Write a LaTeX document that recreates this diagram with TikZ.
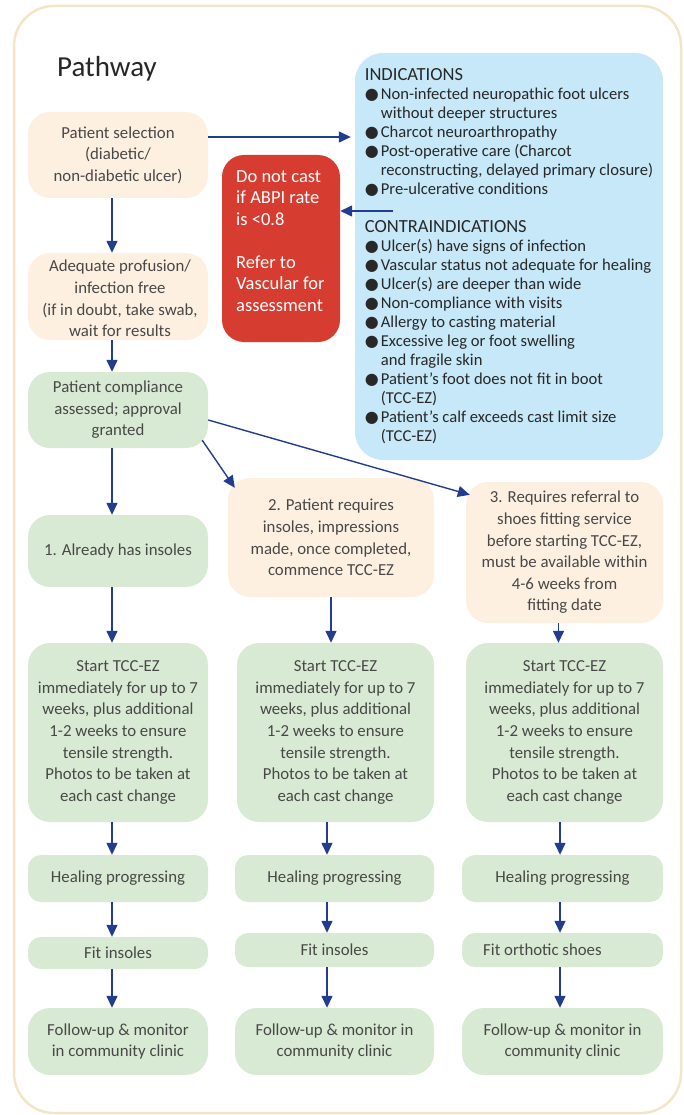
\documentclass[tikz,border=0pt]{standalone}
\usepackage{fontspec}
\setmainfont{Carlito}
\newfontfamily\symfont{DejaVu Sans}
\usepackage{xcolor}
\usetikzlibrary{shapes.geometric, arrows.meta, positioning, calc}
\definecolor{creamfill}{RGB}{253,240,225}
\definecolor{greenfill}{RGB}{216,234,211}
\definecolor{bluefill}{RGB}{198,232,248}
\definecolor{alertred}{RGB}{214,60,48}
\definecolor{navyline}{RGB}{34,61,143}
\definecolor{framecream}{RGB}{243,229,198}
\definecolor{textgray}{RGB}{72,72,72}
\definecolor{listgray}{RGB}{40,40,40}
\tikzstyle{stage} = [rectangle, rounded corners=22pt, inner sep=0pt, align=center, text=textgray, font=\fontsize{16.8}{21.6}\selectfont]
\tikzstyle{creambox} = [stage, fill=creamfill]
\tikzstyle{okbox} = [stage, fill=greenfill]
\tikzstyle{slim} = [rounded corners=13pt]
\tikzstyle{arrow} = [line width=1.4pt, draw=navyline, -{Triangle[length=12pt,width=11pt]}, navyline]
\newcommand{\blt}{\makebox[16pt][l]{{\symfont\fontsize{16}{16}\selectfont ●}}}
\newcommand{\cnt}{\hspace*{16pt}}
\newcommand{\listhead}[1]{{\fontsize{18.5}{19}\selectfont #1}}

\begin{document}
\begin{tikzpicture}[x=1pt, y=-1pt]
\useasboundingbox (0,0) rectangle (684,1115);
\draw [framecream, line width=2.5pt, rounded corners=40pt] (14,6) rectangle (681,1113);

\node (title) [anchor=base west, inner sep=0pt, text=black!85, font=\fontsize{29}{29}\selectfont] at (57,77) {Pathway};

% top column
\node (sel) [creambox, minimum width=180pt, minimum height=86pt] at (118,155) {Patient selection\\(diabetic/\\non-diabetic ulcer)};
\node (adq) [creambox, minimum width=180pt, minimum height=87pt] at (118,296.5) {};
\node (adqtext) [anchor=north, inner sep=0pt, text=textgray, align=center, font=\fontsize{16.8}{21.6}\selectfont] at (120,260) {Adequate profusion/\\infection free\\(if in doubt, take swab,\\wait for results};
\node (comp) [okbox, minimum width=180pt, minimum height=76pt] at (118,410) {Patient compliance\\assessed; approval\\granted};

\node (abpi) [rectangle, rounded corners=22pt, fill=alertred, minimum width=118pt, minimum height=187pt] at (281,248.5) {};
\node (abpitext) [anchor=north west, inner sep=0pt, text=white, align=left, font=\fontsize{18.5}{21.5}\selectfont] at (236,170) {Do not cast\\if ABPI rate\\is <0.8\\[21.5pt]Refer to\\Vascular for\\assessment};

\node (ind) [rectangle, rounded corners=28pt, fill=bluefill, minimum width=308pt, minimum height=407pt, inner sep=0pt, align=left, text=listgray, font=\fontsize{16.6}{19}\selectfont] at (509,256.5) {\listhead{INDICATIONS}\\
\blt Non-infected neuropathic foot ulcers\\
\cnt without deeper structures\\
\blt Charcot neuroarthropathy\\
\blt Post-operative care (Charcot\\
\cnt reconstructing, delayed primary closure)\\
\blt Pre-ulcerative conditions\\[19pt]
\listhead{CONTRAINDICATIONS}\\
\blt Ulcer(s) have signs of infection\\
\blt Vascular status not adequate for healing\\
\blt Ulcer(s) are deeper than wide\\
\blt Non-compliance with visits\\
\blt Allergy to casting material\\
\blt Excessive leg or foot swelling\\
\cnt and fragile skin\\
\blt Patient’s foot does not fit in boot\\
\cnt (TCC-EZ)\\
\blt Patient’s calf exceeds cast limit size\\
\cnt (TCC-EZ)};

% three branches
\node (hasins) [okbox, minimum width=180pt, minimum height=72pt] at (118,551) {1. Already has insoles};
\node (needins) [creambox, minimum width=206pt, minimum height=119pt] at (331,537.5) {2. Patient requires\\insoles, impressions\\made, once completed,\\commence TCC-EZ};
\node (referral) [creambox, minimum width=197pt, minimum height=141pt] at (564.5,552.5) {3. Requires referral to\\shoes fitting service\\before starting TCC-EZ,\\must be available within\\4-6 weeks from\\fitting date};

\node (startA) [okbox, minimum width=180pt, minimum height=179pt] at (118,732.5) {Start TCC-EZ\\immediately for up to 7\\weeks, plus additional\\1-2 weeks to ensure\\tensile strength.\\Photos to be taken at\\each cast change};
\node (startB) [okbox, minimum width=197pt, minimum height=179pt] at (335.5,732.5) {Start TCC-EZ\\immediately for up to 7\\weeks, plus additional\\1-2 weeks to ensure\\tensile strength.\\Photos to be taken at\\each cast change};
\node (startC) [okbox, minimum width=197pt, minimum height=179pt] at (564.5,732.5) {Start TCC-EZ\\immediately for up to 7\\weeks, plus additional\\1-2 weeks to ensure\\tensile strength.\\Photos to be taken at\\each cast change};

\node (healA) [okbox, slim, minimum width=180pt, minimum height=47pt] at (118,878.5) {Healing progressing};
\node (healB) [okbox, slim, minimum width=199pt, minimum height=47pt] at (334.5,878.5) {Healing progressing};
\node (healC) [okbox, slim, minimum width=201pt, minimum height=47pt] at (562.5,878.5) {Healing progressing};

\node (fitA) [okbox, slim, minimum width=180pt, minimum height=32pt] at (118,953) {Fit insoles};
\node (fitB) [okbox, slim, minimum width=199pt, minimum height=34pt] at (334.5,950) {Fit insoles};
\node (fitC) [okbox, slim, minimum width=201pt, minimum height=34pt] at (562.5,950) {};
\node (fitCtext) [anchor=west, inner sep=0pt, text=textgray, font=\fontsize{16.8}{21.6}\selectfont] at (483,950) {Fit orthotic shoes};

\node (followA) [okbox, minimum width=180pt, minimum height=67pt] at (118,1041.5) {Follow-up \& monitor\\in community clinic};
\node (followB) [okbox, minimum width=199pt, minimum height=67pt] at (334.5,1041.5) {Follow-up \& monitor in\\community clinic};
\node (followC) [okbox, minimum width=201pt, minimum height=67pt] at (562.5,1041.5) {Follow-up \& monitor in\\community clinic};

\coordinate (colA) at (112,0);
\coordinate (colB) at (327,0);
\coordinate (colC) at (560,0);
\coordinate (contra) at (393,211);

% Arrows
\draw [arrow, shorten >=4pt] ([yshift=18pt]sel.east) -- ([yshift=18pt]sel.east -| ind.west);
\draw [arrow] (contra) -- (contra -| abpi.east);
\draw [arrow] (sel.south -| colA) -- (adq.north -| colA);
\draw [arrow] (adq.south -| colA) -- (comp.north -| colA);
\draw [arrow] (comp.south -| colA) -- (hasins.north -| colA);
\draw [arrow] ([xshift=-6pt, yshift=8pt]comp.south east) -- ([xshift=7pt, yshift=-10pt]needins.north west);
\draw [arrow] ([yshift=-10pt]comp.east) -- ([xshift=4pt, yshift=-13pt]referral.north west);

\draw [arrow] (hasins.south -| colA) -- (startA.north -| colA);
\draw [arrow] (needins.south) -- (needins.south |- startB.north);
\draw [arrow] ([xshift=-6pt]referral.south) -- ([xshift=-6pt]referral.south |- startC.north);

\draw [arrow] (startA.south -| colA) -- (healA.north -| colA);
\draw [arrow] (startB.south -| colB) -- (healB.north -| colB);
\draw [arrow] (startC.south -| colC) -- (healC.north -| colC);
\draw [arrow] (healA.south -| colA) -- (fitA.north -| colA);
\draw [arrow] (healB.south -| colB) -- (fitB.north -| colB);
\draw [arrow] (healC.south -| colC) -- (fitC.north -| colC);
\draw [arrow] (fitA.south -| colA) -- (followA.north -| colA);
\draw [arrow] (fitB.south -| colB) -- (followB.north -| colB);
\draw [arrow] (fitC.south -| colC) -- (followC.north -| colC);

\end{tikzpicture}
\end{document}
